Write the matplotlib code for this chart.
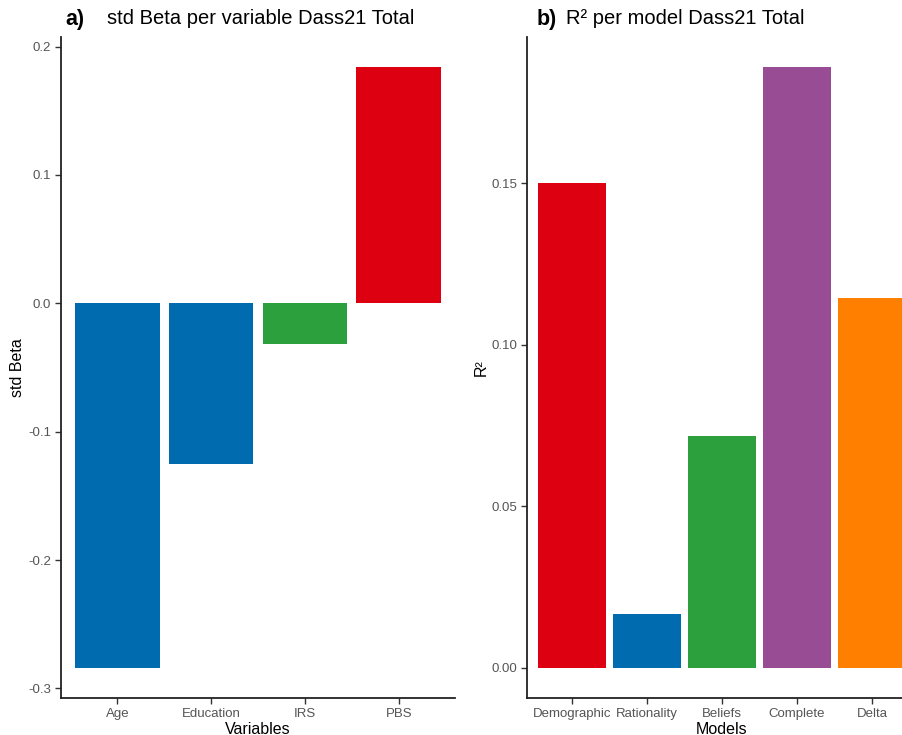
import matplotlib
matplotlib.use("Agg")
import matplotlib.pyplot as plt

plt.rcParams['font.family'] = ['Liberation Sans', 'DejaVu Sans']

# panel a data
variables = ['Age', 'Education', 'IRS', 'PBS']
std_beta = [-0.284, -0.125, -0.032, 0.184]
beta_colors = ['#006BAE', '#006BAE', '#2CA03C', '#DC0010']

# panel b data
models = ['Demographic', 'Rationality', 'Beliefs', 'Complete', 'Delta']
r2 = [0.150, 0.0167, 0.0717, 0.186, 0.1144]
r2_colors = ['#DC0010', '#006BAE', '#2CA03C', '#984C94', '#FF7F00']

W, H = 903, 735
fig = plt.figure(figsize=(W / 100, H / 100), dpi=100)

def px_axes(x0, x1, ytop, ybot):
    return fig.add_axes([x0 / W, 1 - ybot / H, (x1 - x0) / W, (ybot - ytop) / H])

ax1 = px_axes(61, 455, 37, 698)
ax2 = px_axes(527, 917, 37, 698)

def style(ax):
    for s in ['top', 'right']:
        ax.spines[s].set_visible(False)
    for s in ['left', 'bottom']:
        ax.spines[s].set_linewidth(1.3)
        ax.spines[s].set_color('#222222')
    ax.tick_params(axis='both', length=4, width=1.0, color='#333333',
                   labelcolor='#555555', labelsize=9.5, pad=3)

# panel a
x1 = range(len(variables))
ax1.bar(x1, std_beta, width=0.9, color=beta_colors)
ax1.set_xlim(-0.6, len(variables) - 0.4)
lo, hi = min(std_beta), max(std_beta)
pad = (hi - lo) * 0.05
ax1.set_ylim(lo - pad, hi + pad)
ax1.set_yticks([-0.3, -0.2, -0.1, 0.0, 0.1, 0.2])
ax1.set_yticklabels(['-0.3', '-0.2', '-0.1', '0.0', '0.1', '0.2'])
ax1.set_xticks(list(x1))
ax1.set_xticklabels(variables)
ax1.set_xlabel('Variables', fontsize=11.5, labelpad=1.5)
ax1.set_ylabel('std Beta', fontsize=11.5, labelpad=2)
style(ax1)

# panel b
x2 = range(len(models))
ax2.bar(x2, r2, width=0.9, color=r2_colors)
ax2.set_xlim(-0.6, len(models) - 0.4)
pad2 = max(r2) * 0.05
ax2.set_ylim(-pad2, max(r2) + pad2)
ax2.set_yticks([0.0, 0.05, 0.10, 0.15])
ax2.set_yticklabels(['0.00', '0.05', '0.10', '0.15'])
ax2.set_xticks(list(x2))
ax2.set_xticklabels(models)
ax2.set_xlabel('Models', fontsize=11.5, labelpad=1.5)
ax2.set_ylabel('R²', fontsize=11.5, labelpad=2)
style(ax2)

# titles
fig.text(65 / W, 1 - 19 / H, 'a)', fontsize=15.5, fontweight='bold', va='center', ha='left')
fig.text(107 / W, 1 - 18 / H, 'std Beta per variable Dass21 Total', fontsize=14.5, va='center', ha='left')
fig.text(537 / W, 1 - 19 / H, 'b)', fontsize=15.5, fontweight='bold', va='center', ha='left')
fig.text(566 / W, 1 - 18 / H, 'R² per model Dass21 Total', fontsize=14.5, va='center', ha='left')

fig.savefig('out.png', dpi=100)
